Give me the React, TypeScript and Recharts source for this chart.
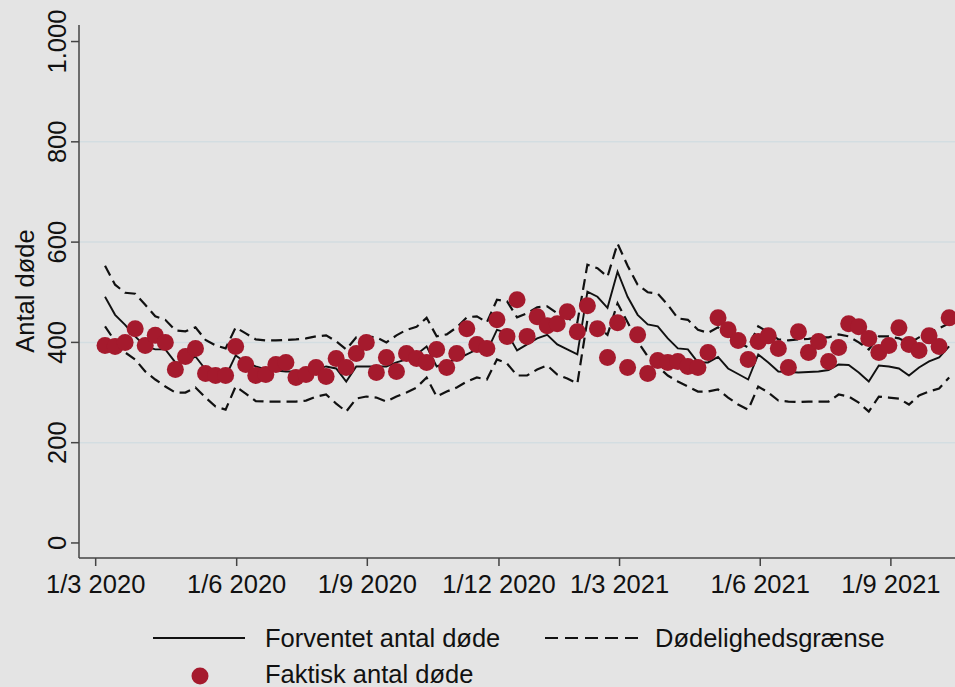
import React from "react";
import {
  ComposedChart,
  Line,
  Scatter,
  XAxis,
  YAxis,
  ReferenceLine,
  Legend,
} from "recharts";

// weekly series, first week of March 2020 onwards
const actual = [
  394, 392, 400, 427, 394, 414, 400, 346, 372, 388, 338, 334, 334, 392, 356,
  334, 336, 356, 360, 330, 336, 350, 332, 368, 350, 378, 400, 340, 370, 342,
  378, 368, 360, 386, 350, 378, 427, 396, 388, 445, 412, 485, 412, 451, 433,
  437, 461, 421, 473, 427, 370, 439, 350, 415, 338, 364, 360, 362, 352, 350,
  380, 449, 425, 404, 366, 402, 413, 388, 350, 421, 380, 402, 362, 390, 437,
  431, 408, 380, 394, 429, 396, 384, 413, 392, 449,
];

const expected = [
  491, 455, 435, 412, 392, 386, 386, 360, 360, 372, 346, 338, 332, 374, 360,
  352, 346, 344, 342, 342, 344, 346, 352, 348, 322, 352, 352, 352, 352, 360,
  366, 376, 392, 352, 360, 366, 376, 386, 382, 425, 419, 384, 396, 408, 415,
  396, 386, 376, 501, 491, 469, 541, 491, 455, 436, 432, 408, 388, 386, 360,
  360, 371, 348, 337, 326, 376, 360, 342, 341, 340, 341, 342, 345, 356, 355,
  340, 322, 354, 352, 348, 334, 350, 362, 370, 392,
];

const upper = [
  553, 515, 499, 497, 475, 452, 445, 424, 422, 430, 405, 394, 388, 430, 418,
  406, 404, 404, 405, 406, 408, 412, 414, 402, 386, 410, 412, 410, 400, 414,
  425, 431, 449, 412, 416, 430, 450, 452, 440, 485, 482, 450, 458, 470, 472,
  458, 448, 440, 555, 548, 531, 597, 553, 515, 500, 497, 475, 448, 445, 425,
  419, 430, 415, 400, 390, 432, 420, 406, 404, 406, 407, 410, 410, 416, 412,
  400, 386, 412, 412, 408, 398, 410, 420, 428, 438,
];

const lower = [
  432, 402, 380, 366, 342, 326, 312, 300, 300, 310, 290, 272, 266, 312, 298,
  283, 282, 282, 282, 282, 284, 292, 296, 278, 262, 288, 292, 290, 282, 292,
  300, 310, 330, 292, 302, 310, 322, 330, 326, 366, 358, 334, 334, 346, 354,
  336, 328, 318, 445, 432, 415, 478, 440, 402, 372, 352, 334, 322, 312, 302,
  302, 306, 290, 276, 266, 312, 300, 284, 282, 281, 282, 282, 282, 296, 292,
  280, 262, 292, 290, 288, 276, 294, 302, 308, 330,
];

const xTickPos = [-0.93, 13.1, 26.1, 39.2, 51.2, 65.2, 78.2];
const xTickLabels = [
  "1/3 2020",
  "1/6 2020",
  "1/9 2020",
  "1/12 2020",
  "1/3 2021",
  "1/6 2021",
  "1/9 2021",
];
const yTicks = [0, 200, 400, 600, 800, 1000];
const gridValues = [200, 400, 600, 800];

const FONT = '"Liberation Sans", Arial, sans-serif';
const RED = "#a51a2d";
const BG = "#e4e4e4";

const rows = actual.map((v, i) => ({
  i,
  actual: v,
  expected: expected[i],
  upper: upper[i],
  lower: lower[i],
}));

function YTick(props: any) {
  const { x, y, payload } = props;
  const bx = x - 5;
  const label = payload.value === 1000 ? "1.000" : String(payload.value);
  return (
    <text
      x={bx}
      y={y}
      transform={`rotate(-90 ${bx} ${y})`}
      textAnchor="middle"
      fontFamily={FONT}
      fontSize={25.5}
      fill="#111"
    >
      {label}
    </text>
  );
}

function YTitle() {
  return (
    <text
      x={34}
      y={291}
      transform="rotate(-90 34 291)"
      textAnchor="middle"
      fontFamily={FONT}
      fontSize={25.5}
      fill="#111"
    >
      Antal døde
    </text>
  );
}

function LegendBox() {
  return (
    <svg width={955} height={89} style={{ display: "block" }}>
      <g fontFamily={FONT} fontSize={25.5} fill="#111">
        <line x1={153} x2={245} y1={40} y2={40} stroke="#111" strokeWidth={2} />
        <text x={265} y={40} dominantBaseline="central">
          Forventet antal døde
        </text>
        <line
          x1={545}
          x2={640}
          y1={40}
          y2={40}
          stroke="#111"
          strokeWidth={2}
          strokeDasharray="13 7"
        />
        <text x={655} y={40} dominantBaseline="central">
          Dødelighedsgrænse
        </text>
        <circle cx={200} cy={78} r={8.5} fill={RED} />
        <text x={265} y={76} dominantBaseline="central">
          Faktisk antal døde
        </text>
      </g>
    </svg>
  );
}

export default function App() {
  return (
    <div
      style={{
        position: "absolute",
        left: 0,
        top: 0,
        width: 955,
        height: 687,
        background: BG,
        overflow: "hidden",
      }}
    >
      <ComposedChart
        width={955}
        height={687}
        data={rows}
        margin={{ top: 25, right: 0, bottom: 0, left: 0 }}
      >
        {gridValues.map((g) => (
          <ReferenceLine key={g} y={g} stroke="#d3dde1" strokeWidth={1.5} />
        ))}
        <XAxis
          type="number"
          dataKey="i"
          domain={[-2.59, 84.58]}
          ticks={xTickPos}
          interval={0}
          height={129}
          tickSize={8}
          tickMargin={9}
          tickFormatter={(v) => xTickLabels[xTickPos.indexOf(v)] ?? ""}
          tick={{ fontSize: 25.5, fontFamily: FONT, fill: "#111" }}
          axisLine={{ stroke: "#444", strokeWidth: 1.5 }}
          tickLine={{ stroke: "#444", strokeWidth: 1.5 }}
        />
        <YAxis
          type="number"
          domain={[-30, 1033]}
          ticks={yTicks}
          interval={0}
          width={79}
          tickSize={8}
          tickMargin={0}
          tick={<YTick />}
          axisLine={{ stroke: "#444", strokeWidth: 1.5 }}
          tickLine={{ stroke: "#444", strokeWidth: 1.5 }}
          label={<YTitle />}
        />
        <Legend
          layout="horizontal"
          verticalAlign="middle"
          align="center"
          wrapperStyle={{ left: 0, top: 598, width: 955, height: 89 }}
          content={() => <LegendBox />}
        />
        <Line
          type="linear"
          dataKey="upper"
          stroke="#111"
          strokeWidth={2.2}
          strokeDasharray="11 6"
          dot={false}
          isAnimationActive={false}
        />
        <Line
          type="linear"
          dataKey="lower"
          stroke="#111"
          strokeWidth={2.2}
          strokeDasharray="11 6"
          dot={false}
          isAnimationActive={false}
        />
        <Line
          type="linear"
          dataKey="expected"
          stroke="#111"
          strokeWidth={1.9}
          dot={false}
          isAnimationActive={false}
        />
        <Scatter
          dataKey="actual"
          isAnimationActive={false}
          shape={(p: any) => (
            <circle cx={p.cx} cy={p.cy} r={8.5} fill={RED} />
          )}
        />
      </ComposedChart>
    </div>
  );
}
